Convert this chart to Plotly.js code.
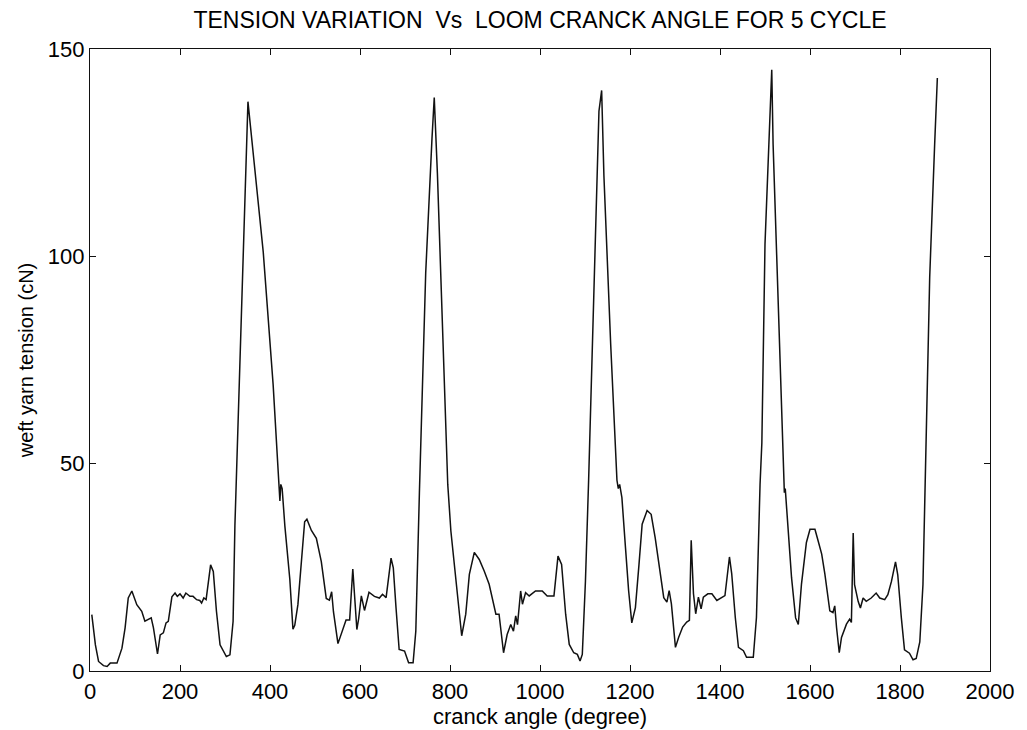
<!DOCTYPE html>
<html>
<head>
<meta charset="utf-8">
<script src="https://cdn.plot.ly/plotly-3.0.1.min.js"></script>
<style>
  html, body { margin: 0; padding: 0; background: #fff; }
  #chart { width: 1027px; height: 730px; }
</style>
</head>
<body>
<div id="chart"></div>
<script>
// crank angle (degree)
const crankAngle = [
  4, 12, 19, 30, 38, 45, 60, 71, 78, 85, 93, 104, 115, 122, 136, 141, 150, 156, 163, 169,
  174, 182, 189, 194, 200, 207, 213, 222, 229, 237, 244, 248, 253, 258, 268, 274, 281, 289, 303, 311,
  318, 322, 351, 362, 385, 407, 421, 422, 424, 427, 433, 444, 451, 455, 462, 470, 477, 482, 492, 503,
  514, 525, 532, 537, 541, 551, 562, 569, 577, 584, 588, 593, 597, 603, 610, 620, 632, 643, 650, 658,
  669, 674, 680, 687, 699, 708, 718, 724, 732, 746, 760, 765, 772, 783, 795, 802, 813, 826, 835, 843,
  854, 865, 876, 887, 902, 909, 919, 927, 935, 941, 946, 950, 957, 961, 968, 976, 990, 1005, 1016, 1031,
  1040, 1048, 1057, 1065, 1075, 1083, 1089, 1094, 1101, 1108, 1131, 1137, 1142, 1157, 1171, 1174, 1177, 1182, 1190, 1197,
  1204, 1212, 1220, 1227, 1238, 1247, 1256, 1267, 1275, 1282, 1287, 1292, 1301, 1308, 1317, 1326, 1332, 1336, 1341, 1346,
  1352, 1358, 1363, 1373, 1382, 1393, 1404, 1411, 1421, 1426, 1434, 1441, 1452, 1459, 1474, 1481, 1489, 1493, 1500, 1515,
  1518, 1530, 1541, 1543, 1545, 1552, 1559, 1568, 1574, 1581, 1592, 1600, 1611, 1618, 1626, 1633, 1644, 1651, 1655, 1659,
  1665, 1670, 1681, 1688, 1692, 1696, 1699, 1707, 1712, 1718, 1725, 1736, 1747, 1755, 1766, 1773, 1781, 1790, 1795, 1803,
  1810, 1821, 1829, 1836, 1844, 1851, 1855, 1866, 1877, 1883
];
// weft yarn tension (cN)
const weftTension = [
  13.6, 6.3, 2.3, 1.3, 1.1, 1.9, 1.9, 5.5, 10.4, 17.6, 19.3, 16, 14.4, 12, 12.8, 10.4, 4.1, 8.7, 9.2, 11.6,
  12, 17.9, 18.8, 18, 18.6, 17.6, 18.8, 18, 18, 17.2, 17, 16.4, 17.6, 17.2, 25.6, 24, 14.4, 6.3, 3.5, 3.9,
  12, 35, 137.3, 125, 101, 69, 44, 41, 45, 44, 35, 22.2, 10.1, 11, 16, 26.4, 36, 36.6, 33.9, 32,
  26.4, 17.5, 17.1, 19.1, 14.3, 6.6, 9.9, 12.3, 12.3, 24.6, 18.1, 10, 12.6, 18.1, 14.6, 19, 18, 17.6, 18.5, 17.7,
  27.2, 24.9, 15.3, 5.2, 4.8, 2, 2, 9.6, 43, 96, 128.5, 138.3, 120, 82.4, 45, 33.7, 21.7, 8.5, 13.7, 23.3,
  28.6, 26.9, 24.1, 20.9, 13.7, 13.7, 4.4, 8.8, 11.2, 9.6, 13.3, 11.2, 19.3, 16.1, 18.9, 18.1, 19.3, 19.3, 18.1, 18.1,
  27.7, 25.7, 13.7, 6.4, 4.4, 4, 2.4, 4, 21.7, 45.8, 135, 140, 119.5, 79, 46, 44, 45, 41.8, 29.7, 19.3,
  11.6, 15.3, 25.7, 35.4, 38.7, 37.8, 32.1, 24.1, 17.7, 16.6, 19.4, 16.2, 5.7, 8.1, 10.6, 11.8, 12.2, 31.5, 18.7, 13.8,
  17.8, 15, 17.8, 18.6, 18.6, 17, 17.8, 18.2, 27.5, 23.5, 12.9, 5.7, 4.9, 3.3, 3.3, 12.9, 45, 55, 103, 145,
  127, 86.8, 45, 43, 44, 33, 22.5, 12.8, 11.2, 20.9, 31, 34.2, 34.2, 31.4, 28.2, 23.4, 14.5, 14.1, 15.7, 10.5,
  4.4, 8.1, 11.3, 12.5, 11.7, 33.3, 20.8, 16.8, 15.2, 17.6, 16.8, 17.6, 18.8, 17.6, 17.2, 18.4, 21.6, 26.3, 23.2, 12.8,
  5.1, 4.3, 2.7, 3, 7, 20.8, 43, 95, 127, 143
];
const xTickVals = [0, 200, 400, 600, 800, 1000, 1200, 1400, 1600, 1800, 2000];
const yTickVals = [0, 50, 100, 150];

const fontFam = '"Liberation Sans", Arial, sans-serif';

const trace = {
  x: crankAngle,
  y: weftTension,
  type: 'scatter',
  mode: 'lines',
  line: { color: '#111', width: 1.5 },
  hoverinfo: 'x+y'
};

const layout = {
  width: 1027,
  height: 730,
  margin: { l: 90, r: 37, t: 49, b: 59 },
  paper_bgcolor: '#fff',
  plot_bgcolor: '#fff',
  showlegend: false,
  font: { family: fontFam, color: '#000', size: 22 },
  title: {
    text: 'TENSION VARIATION  Vs  LOOM CRANCK ANGLE FOR 5 CYCLE',
    font: { family: fontFam, size: 23, color: '#000' },
    xref: 'paper', x: 0.5, xanchor: 'center',
    yref: 'container', y: 0.972, yanchor: 'middle'
  },
  xaxis: {
    range: [0, 2000],
    tickvals: xTickVals,
    ticktext: xTickVals.map(String),
    ticks: 'inside', ticklen: 6, tickcolor: '#111', tickwidth: 1,
    showline: true, linecolor: '#111', linewidth: 1.2, mirror: 'ticks',
    showgrid: false, zeroline: false, automargin: false,
    tickfont: { family: fontFam, size: 22, color: '#000' },
    title: { text: 'cranck angle (degree)', font: { family: fontFam, size: 22, color: '#000' }, standoff: 0 }
  },
  yaxis: {
    range: [0, 150],
    tickvals: yTickVals,
    ticktext: yTickVals.map(String),
    ticks: 'inside', ticklen: 6, tickcolor: '#111', tickwidth: 1,
    showline: true, linecolor: '#111', linewidth: 1.2, mirror: 'ticks',
    showgrid: false, zeroline: false, automargin: false,
    tickfont: { family: fontFam, size: 22, color: '#000' },
    title: { text: 'weft yarn tension (cN)', font: { family: fontFam, size: 20, color: '#000' }, standoff: 8 }
  }
};

Plotly.newPlot('chart', [trace], layout, { displayModeBar: false, staticPlot: true });
</script>
</body>
</html>
